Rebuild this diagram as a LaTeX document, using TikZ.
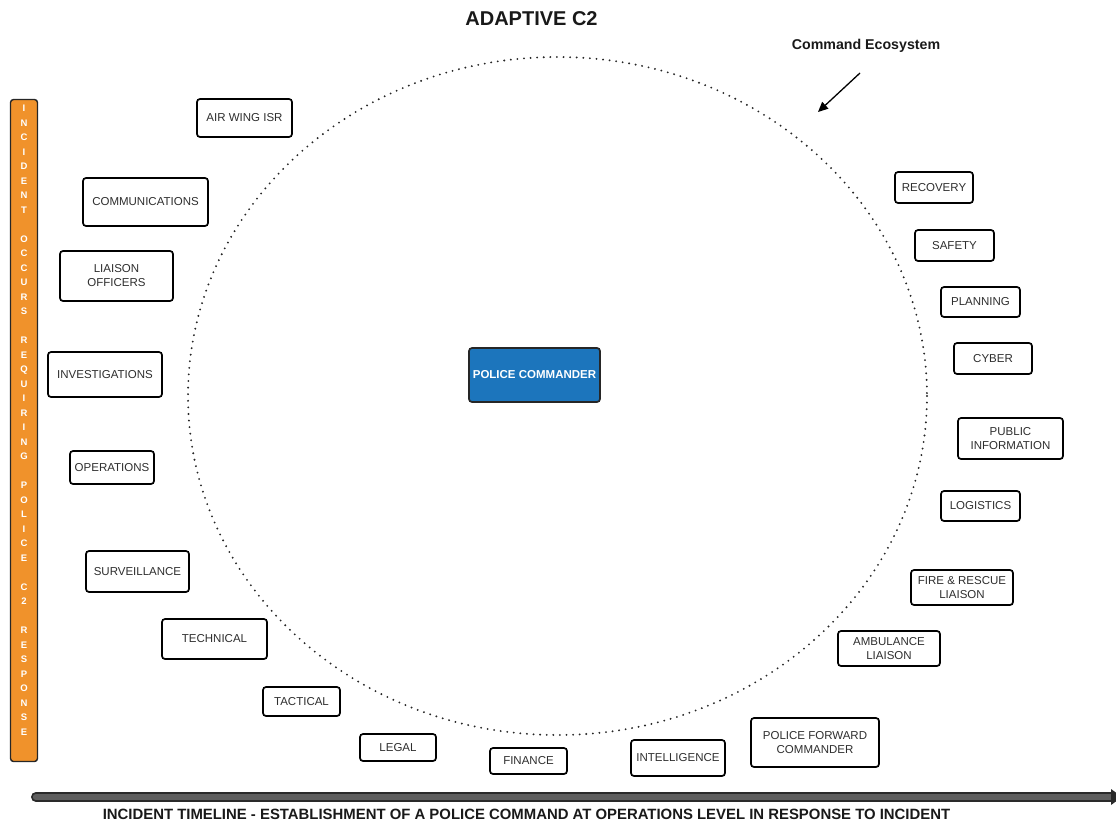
\documentclass[tikz,border=0pt]{standalone}
\usepackage{fontspec}
\setmainfont{Liberation Sans}
\usetikzlibrary{arrows.meta}
\definecolor{boxtext}{HTML}{2E2E2E}
\definecolor{cmdblue}{HTML}{1C75BC}
\definecolor{barorange}{HTML}{F0922B}
\definecolor{tlgray}{HTML}{5E5E5E}
\definecolor{tldark}{HTML}{2A2A2A}
\tikzset{
  unitbox/.style={draw=black, line width=1.7pt, rounded corners=3pt, fill=white,
    align=center, text=boxtext, inner sep=0pt,
    font=\fontsize{11.5}{14}\selectfont},
  cmdbox/.style={draw=black!85, line width=1.7pt, rounded corners=3pt, fill=cmdblue,
    align=center, text=white, inner sep=0pt,
    font=\bfseries\fontsize{11.5}{14}\selectfont},
  sz/.style 2 args={minimum width=#1, minimum height=#2},
}
\begin{document}
\begin{tikzpicture}[x=1pt,y=-1pt]
\useasboundingbox (0,0) rectangle (1116,825);

% title
\node[font=\bfseries\fontsize{20}{23}\selectfont, text=black!90] (title) at (531.5,19) {ADAPTIVE C2};
\node[font=\bfseries\fontsize{14.2}{16}\selectfont, text=black!90] (eco) at (866,46) {Command Ecosystem};
\coordinate (arrS) at (860,73);
\coordinate (arrE) at (818,112);
\draw[line width=1.3pt, -{Triangle[length=10pt,width=9pt]}] (arrS) -- (arrE);

% dotted ecosystem ellipse
\draw[line width=2.1pt, line cap=round, dash pattern=on 0pt off 6.6pt, black!85]
  (557.5,396) ellipse [x radius=369.5, y radius=339];

% orange bar
\node[draw=black!85, line width=1.4pt, rounded corners=3pt, fill=barorange,
  minimum width=27, minimum height=662, inner sep=0pt] (bar) at (24,430.5) {};
\node[text=white, font=\bfseries\fontsize{9.5}{14.5}\selectfont, align=center, anchor=north] (bartext) at (24,101.5)
 {I\\N\\C\\I\\D\\E\\N\\T\\[14.5pt]O\\C\\C\\U\\R\\S\\[14.5pt]R\\E\\Q\\U\\I\\R\\I\\N\\G\\[14.5pt]P\\O\\L\\I\\C\\E\\[14.5pt]C\\2\\[14.5pt]R\\E\\S\\P\\O\\N\\S\\E};

% timeline
\coordinate (tlA) at (36,797);
\coordinate (tlB) at (1113,797);
\draw[tldark, line width=10pt, line cap=round] (tlA) -- (tlB);
\draw[tlgray, line width=6.4pt, line cap=round] (tlA) -- (tlB);
\fill[tldark] (1111,789) -- (1122,797) -- (1111,805) -- cycle;
\node[font=\bfseries\fontsize{14.9}{16}\selectfont, text=black!90] (tltext) at (526.5,814)
 {INCIDENT TIMELINE - ESTABLISHMENT OF A POLICE COMMAND AT OPERATIONS LEVEL IN RESPONSE TO INCIDENT};

% center
\node[cmdbox, sz={131}{54}] (pc) at (534.5,375) {POLICE COMMANDER};

% left side
\node[unitbox, sz={95}{38}] (air) at (244.5,118) {AIR WING ISR};
\node[unitbox, sz={125}{48}] (comm) at (145.5,202) {COMMUNICATIONS};
\node[unitbox, sz={113}{50}] (liaison) at (116.5,276) {LIAISON\\OFFICERS};
\node[unitbox, sz={114}{45}] (inv) at (105,374.5) {INVESTIGATIONS};
\node[unitbox, sz={84}{33}] (ops) at (112,467.5) {OPERATIONS};
\node[unitbox, sz={103}{41}] (surv) at (137.5,571.5) {SURVEILLANCE};
\node[unitbox, sz={105}{40}] (tech) at (214.5,639) {TECHNICAL};
\node[unitbox, sz={77}{29}] (tact) at (301.5,701.5) {TACTICAL};
\node[unitbox, sz={76}{27}] (legal) at (398,747.5) {LEGAL};
\node[unitbox, sz={77}{26}] (fin) at (528.5,761) {FINANCE};
\node[unitbox, sz={94}{36}] (intel) at (678,758) {INTELLIGENCE};

% right side
\node[unitbox, sz={128}{49}] (pfc) at (815,742.5) {POLICE FORWARD\\COMMANDER};
\node[unitbox, sz={102}{35}] (amb) at (889,648.5) {AMBULANCE\\LIAISON};
\node[unitbox, sz={102}{35}] (fire) at (962,587.5) {FIRE \& RESCUE\\LIAISON};
\node[unitbox, sz={79}{30}] (log) at (980.5,506) {LOGISTICS};
\node[unitbox, sz={105}{41}] (pubinfo) at (1010.5,438.5) {PUBLIC\\INFORMATION};
\node[unitbox, sz={78}{31}] (cyber) at (993,358.5) {CYBER};
\node[unitbox, sz={79}{30}] (plan) at (980.5,302) {PLANNING};
\node[unitbox, sz={79}{31}] (safety) at (954.5,245.5) {SAFETY};
\node[unitbox, sz={78}{31}] (recov) at (934,187.5) {RECOVERY};
\end{tikzpicture}
\end{document}
